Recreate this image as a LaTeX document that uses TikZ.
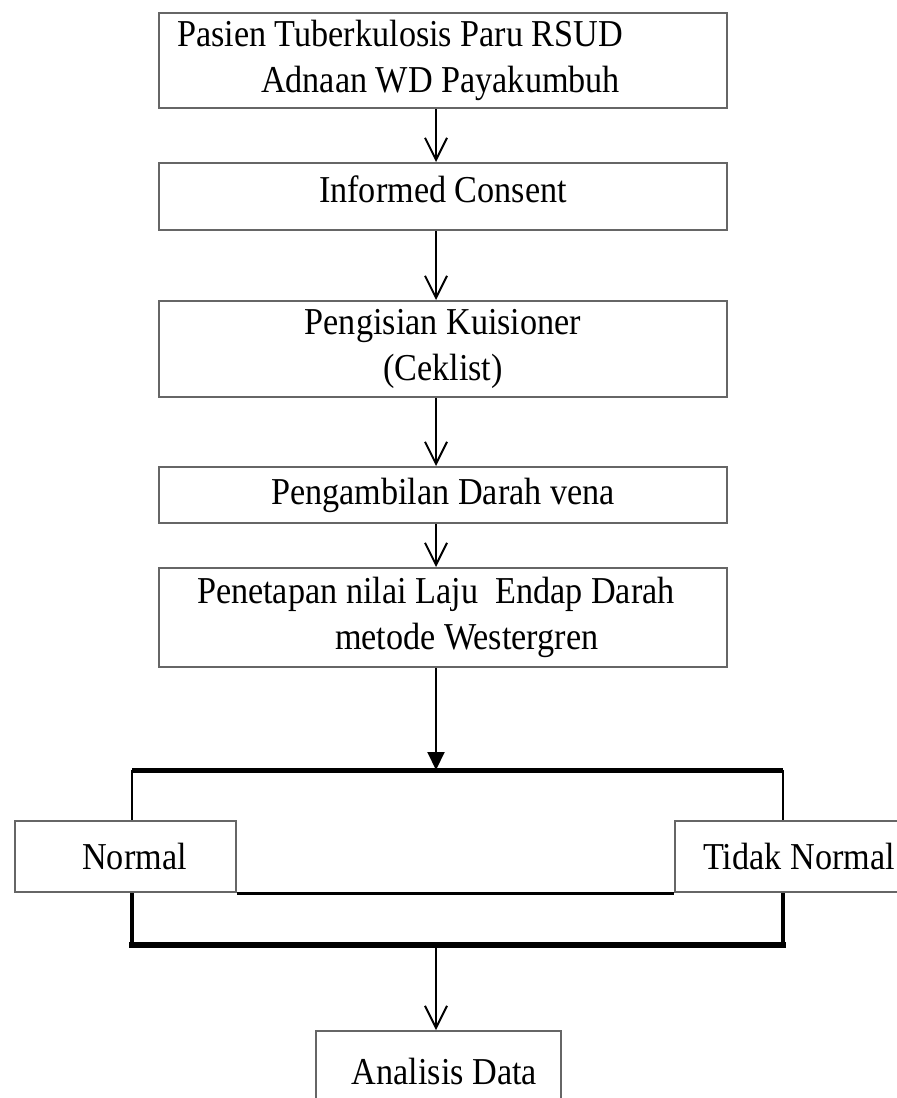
\documentclass[tikz,border=0pt]{standalone}
\usepackage{fontspec}
\setmainfont{Liberation Serif}[FakeStretch=0.9]
\usetikzlibrary{arrows.meta}
\begin{document}
\begin{tikzpicture}[x=.5pt, y=-.5pt,
    kotak/.style={draw=black!60, line width=1pt, inner sep=0pt, minimum width=284pt, align=center, font=\fontsize{19}{23}\selectfont},
    panah/.style={-{Straight Barb[length=11pt,width=11pt]}, line width=1pt},
    panahisi/.style={-{Triangle[length=9pt,width=8.5pt]}, line width=1pt}]
\path[use as bounding box, fill=white] (0,0) rectangle (897,1098);

\node[kotak, minimum height=47.5pt, text width=284pt, align=flush left] (p1) at (443,60.5)
    {\hspace*{9pt}Pasien Tuberkulosis Paru RSUD\\\hspace*{51pt}Adnaan WD Payakumbuh};
\node[kotak, minimum height=33.5pt, text depth=7pt] (p2) at (443,196.5) {Informed Consent};
\node[kotak, minimum height=48pt] (p3) at (443,349) {Pengisian Kuisioner\\(Ceklist)};
\node[kotak, minimum height=28pt] (p4) at (443,495) {Pengambilan Darah vena};
\node[kotak, minimum height=49.5pt, text width=284pt, align=flush left] (p5) at (443,617.5)
    {\hspace*{19pt}Penetapan nilai Laju\ \ Endap Darah\\\hspace*{88pt}metode Westergren};

\foreach \a/\b in {p1/p2,p2/p3,p3/p4,p4/p5}
{
    \draw[panah] ([xshift=-3.5pt]\a.south)--([xshift=-3.5pt]\b.north);
}

\coordinate (kiri) at (132,770);
\coordinate (kanan) at (783,770);
\coordinate (bawah) at (436,945);

\node[kotak, minimum width=110.5pt, minimum height=35.5pt] (nrm) at (125.5,856.5) {\hspace*{9pt}Normal};
\node[kotak, minimum width=124pt, minimum height=35.5pt] (tdk) at (799,856.5) {Tidak Normal};
\node[kotak, minimum width=122.5pt, minimum height=40.5pt] (ana) at (438.5,1071.5) {\hspace*{6pt}Analisis Data};

\draw[panahisi] ([xshift=-3.5pt]p5.south)--([xshift=-3.5pt]p5.south |- kiri);
\draw[line width=2.5pt] (kiri)--(kanan);
\draw[line width=1pt] (kiri)--(kiri |- nrm.north);
\draw[line width=1pt] (kanan)--(kanan |- tdk.north);
\draw[line width=1.5pt] (nrm.south east)--(tdk.south west);
\draw[line width=2pt] (nrm.south -| kiri)--(kiri |- bawah);
\draw[line width=2pt] (tdk.south -| kanan)--(kanan |- bawah);
\draw[line width=3pt, line cap=rect] (kiri |- bawah)--(kanan |- bawah);
\draw[panah] (bawah)--(bawah |- ana.north);

\end{tikzpicture}
\end{document}
